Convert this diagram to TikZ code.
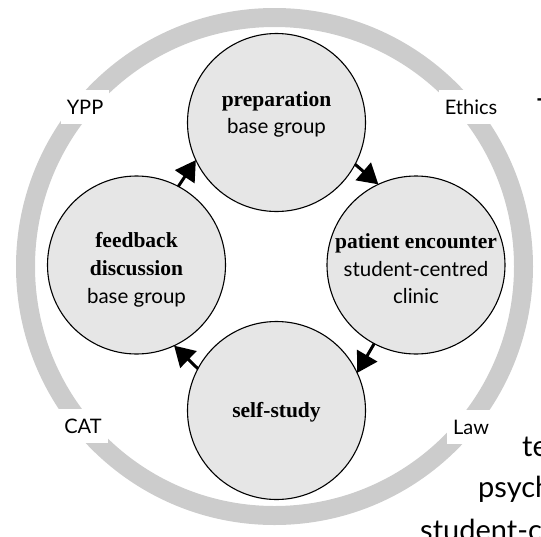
\documentclass[tikz,border=0pt]{standalone}
\usepackage{fontspec}
\setmainfont{Lato}
\newfontfamily\boldser{Liberation Serif}
\usetikzlibrary{arrows.meta}
\definecolor{ringgray}{HTML}{CCCCCC}
\definecolor{stagefill}{HTML}{E6E6E6}
\tikzset{
  ringline/.style={draw=ringgray, line width=19pt},
  stage/.style={circle, draw=black, line width=1.1pt, fill=stagefill,
    minimum size=178pt, inner sep=0pt, outer sep=0pt},
  boldline/.style={anchor=base, inner sep=0pt,
    font=\boldser\bfseries\fontsize{21.5}{26}\selectfont},
  plainline/.style={anchor=base, inner sep=0pt,
    font=\fontsize{20.5}{26}\selectfont},
  cyc/.style={line width=3pt, -{Triangle[length=20pt,width=23pt]}},
  lab/.style={fill=white, inner xsep=6pt, inner ysep=10pt,
    font=\fontsize{20}{24}\selectfont},
  bigtext/.style={anchor=base west, inner sep=0pt, font=\fontsize{29}{34}\selectfont}
}
\begin{document}
\begin{tikzpicture}[x=1pt,y=-1pt]
\useasboundingbox (0,0) rectangle (541,536);
\clip (0,0) rectangle (541,536);
\draw[ringline] (274.5,266.5) circle (249);
\node[lab] (ypp) at (85,107) {YPP};
\node[lab] (ethics) at (471,107) {Ethics};
\node[lab] (cat) at (83,426) {CAT};
\node[lab] (law) at (471,427) {Law};
% stage circles
\node[stage] (top) at (276.5,122.5) {};
\node[stage] (right) at (416,265) {};
\node[stage] (bottom) at (276.5,410.5) {};
\node[stage] (left) at (136.5,265) {};
% texts
\node[boldline] (top1) at (276.5,106) {preparation};
\node[plainline] (top2) at (276.5,133) {base group};
\node[boldline] (right1) at (416,248) {patient encounter};
\node[plainline] (right2) at (416,276) {student-centred};
\node[plainline] (right3) at (416,303) {clinic};
\node[boldline] (bottom1) at (276.5,417) {self-study};
\node[boldline] (left1) at (136.5,247) {feedback};
\node[boldline] (left2) at (136.5,275) {discussion};
\node[plainline] (left3) at (136.5,303) {base group};
% cycle arrows
\draw[cyc] (top.-28) -- (right.115);
\draw[cyc] (right.-118) -- (bottom.25);
\draw[cyc] (bottom.152) -- (left.-65);
\draw[cyc] (left.62) -- (top.-155);
% text of the surrounding page, cut by the edge
\node[bigtext] (tt) at (537,119) {T};
\node[bigtext] (te) at (522,456) {te};
\node[bigtext] (psych) at (478,497) {psych};
\node[bigtext] (stc) at (420,540) {student-c};
\end{tikzpicture}
\end{document}
